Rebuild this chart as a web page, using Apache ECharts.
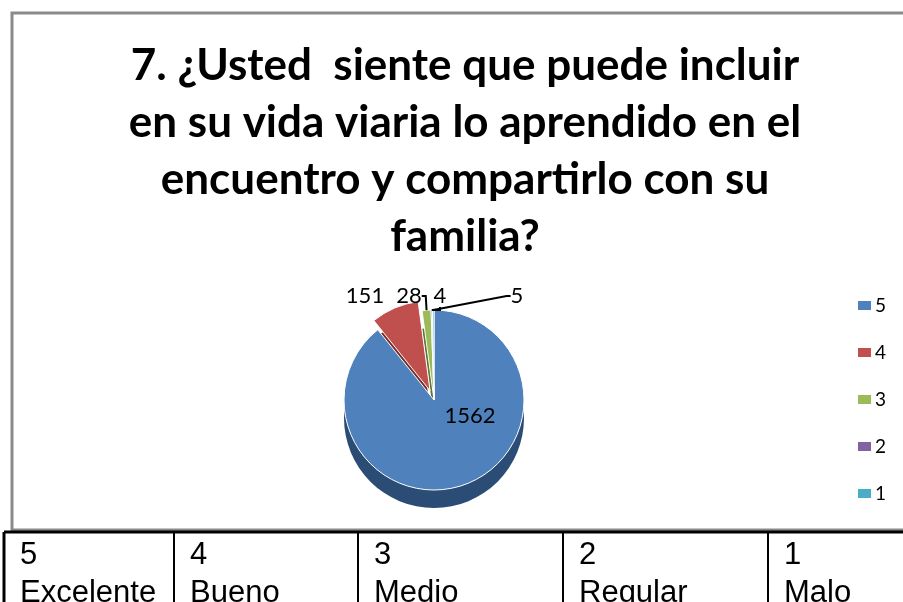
<!DOCTYPE html>
<html>
<head>
<meta charset="utf-8">
<script src="https://cdn.jsdelivr.net/npm/echarts@6/dist/echarts.min.js"></script>
<style>
  html, body { margin: 0; padding: 0; background: #fff; }
  #main { width: 903px; height: 602px; }
</style>
</head>
<body>
<div id="main"></div>
<script>
// datos de la pregunta 7
var categorias = ['5', '4', '3', '2', '1'];
var valores = [1562, 151, 28, 4, 5];
var nombresTabla = ['Excelente', 'Bueno', 'Medio', 'Regular', 'Malo'];

var colores = ['#4F81BD', '#C0504D', '#9BBB59', '#8064A2', '#4BACC6'];
var coloresLado = ['#2B4C75', '#7A2E2C', '#5E7531', '#4B3A61', '#28697B'];

// posiciones de las etiquetas (x del centro)
var etiquetaX = [470, 365, 409, 440, 517];

var centro = [434, 400];
var radio = 90;

var chart = echarts.init(document.getElementById('main'));

var datos = categorias.map(function (c, i) {
  return { name: c, value: valores[i], selected: i === 1 };
});
var datosLado = categorias.map(function (c, i) {
  return { name: c, value: valores[i], selected: i === 1, itemStyle: { color: coloresLado[i] } };
});
var datosEtiqueta = categorias.map(function (c, i) {
  var d = { name: c, value: valores[i] };
  if (i === 0) {
    d.label = { position: 'inside' };
  }
  if (i < 2) {
    d.labelLine = { show: false };
  }
  return d;
});

// tabla de abajo
var colX = [4, 174, 358, 563, 768, 903];
var tablaY = 532;
var graficos = [
  { type: 'rect', shape: { x: 12, y: 13, width: 900, height: 517 },
    style: { fill: 'none', stroke: '#8a8a8a', lineWidth: 3 }, z: -1 },
  { type: 'line', shape: { x1: 4, y1: tablaY, x2: 903, y2: tablaY },
    style: { stroke: '#000', lineWidth: 3 } }
];
for (var i = 0; i < 5; i++) {
  graficos.push({ type: 'line', shape: { x1: colX[i], y1: tablaY, x2: colX[i], y2: 602 },
    style: { stroke: '#000', lineWidth: i === 0 ? 3 : 2 } });
  graficos.push({ type: 'text', left: colX[i] + 16, top: 536,
    style: { text: categorias[i] + '\n' + nombresTabla[i], fill: '#000',
      font: '31px "Liberation Sans", Arial, sans-serif', lineHeight: 38 } });
}

var option = {
  animation: false,
  color: colores,
  title: {
    text: '7. ¿Usted  siente que puede incluir\nen su vida viaria lo aprendido en el\nencuentro y compartirlo con su\nfamilia?',
    left: 460,
    top: 32,
    textAlign: 'center',
    textStyle: {
      fontFamily: 'Lato',
      fontWeight: 'bold',
      fontSize: 44,
      lineHeight: 57,
      color: '#000'
    }
  },
  legend: {
    orient: 'vertical',
    left: 851,
    top: 291,
    itemWidth: 15,
    itemHeight: 11,
    itemGap: 28,
    icon: 'rect',
    data: categorias,
    selectedMode: false,
    textStyle: { fontFamily: 'Lato', fontSize: 19, color: '#000', padding: [0, 0, 0, -2] }
  },
  series: [
    {
      name: 'Pregunta 7',
      type: 'pie',
      center: centro,
      radius: radio,
      startAngle: 90,
      selectedMode: 'multiple',
      selectedOffset: 10,
      itemStyle: { borderColor: '#fff', borderWidth: 1 },
      label: { show: false },
      labelLine: { show: false },
      z: 3,
      data: datos
    },
    {
      name: 'lado',
      type: 'pie',
      silent: true,
      center: [centro[0], centro[1] + 18],
      radius: radio,
      startAngle: 90,
      selectedMode: 'multiple',
      selectedOffset: 10,
      label: { show: false },
      labelLine: { show: false },
      legendHoverLink: false,
      z: 1,
      data: datosLado
    },
    {
      // solo las etiquetas
      name: 'etiquetas',
      type: 'pie',
      silent: true,
      center: centro,
      radius: radio,
      startAngle: 90,
      legendHoverLink: false,
      itemStyle: { color: 'rgba(0,0,0,0)' },
      label: {
        show: true,
        formatter: '{c}',
        fontFamily: 'Lato',
        fontSize: 22,
        color: '#000',
        position: 'outside'
      },
      labelLine: { show: true, length: 6, length2: 4, lineStyle: { color: '#000', width: 2 } },
      labelLayout: function (p) {
        if (p.dataIndex === 0) {
          return { x: etiquetaX[0], y: 416, align: 'center', verticalAlign: 'middle' };
        }
        return { x: etiquetaX[p.dataIndex], y: 296, align: 'center', verticalAlign: 'middle' };
      },
      z: 4,
      data: datosEtiqueta
    }
  ],
  graphic: graficos
};

chart.setOption(option);
</script>
</body>
</html>
